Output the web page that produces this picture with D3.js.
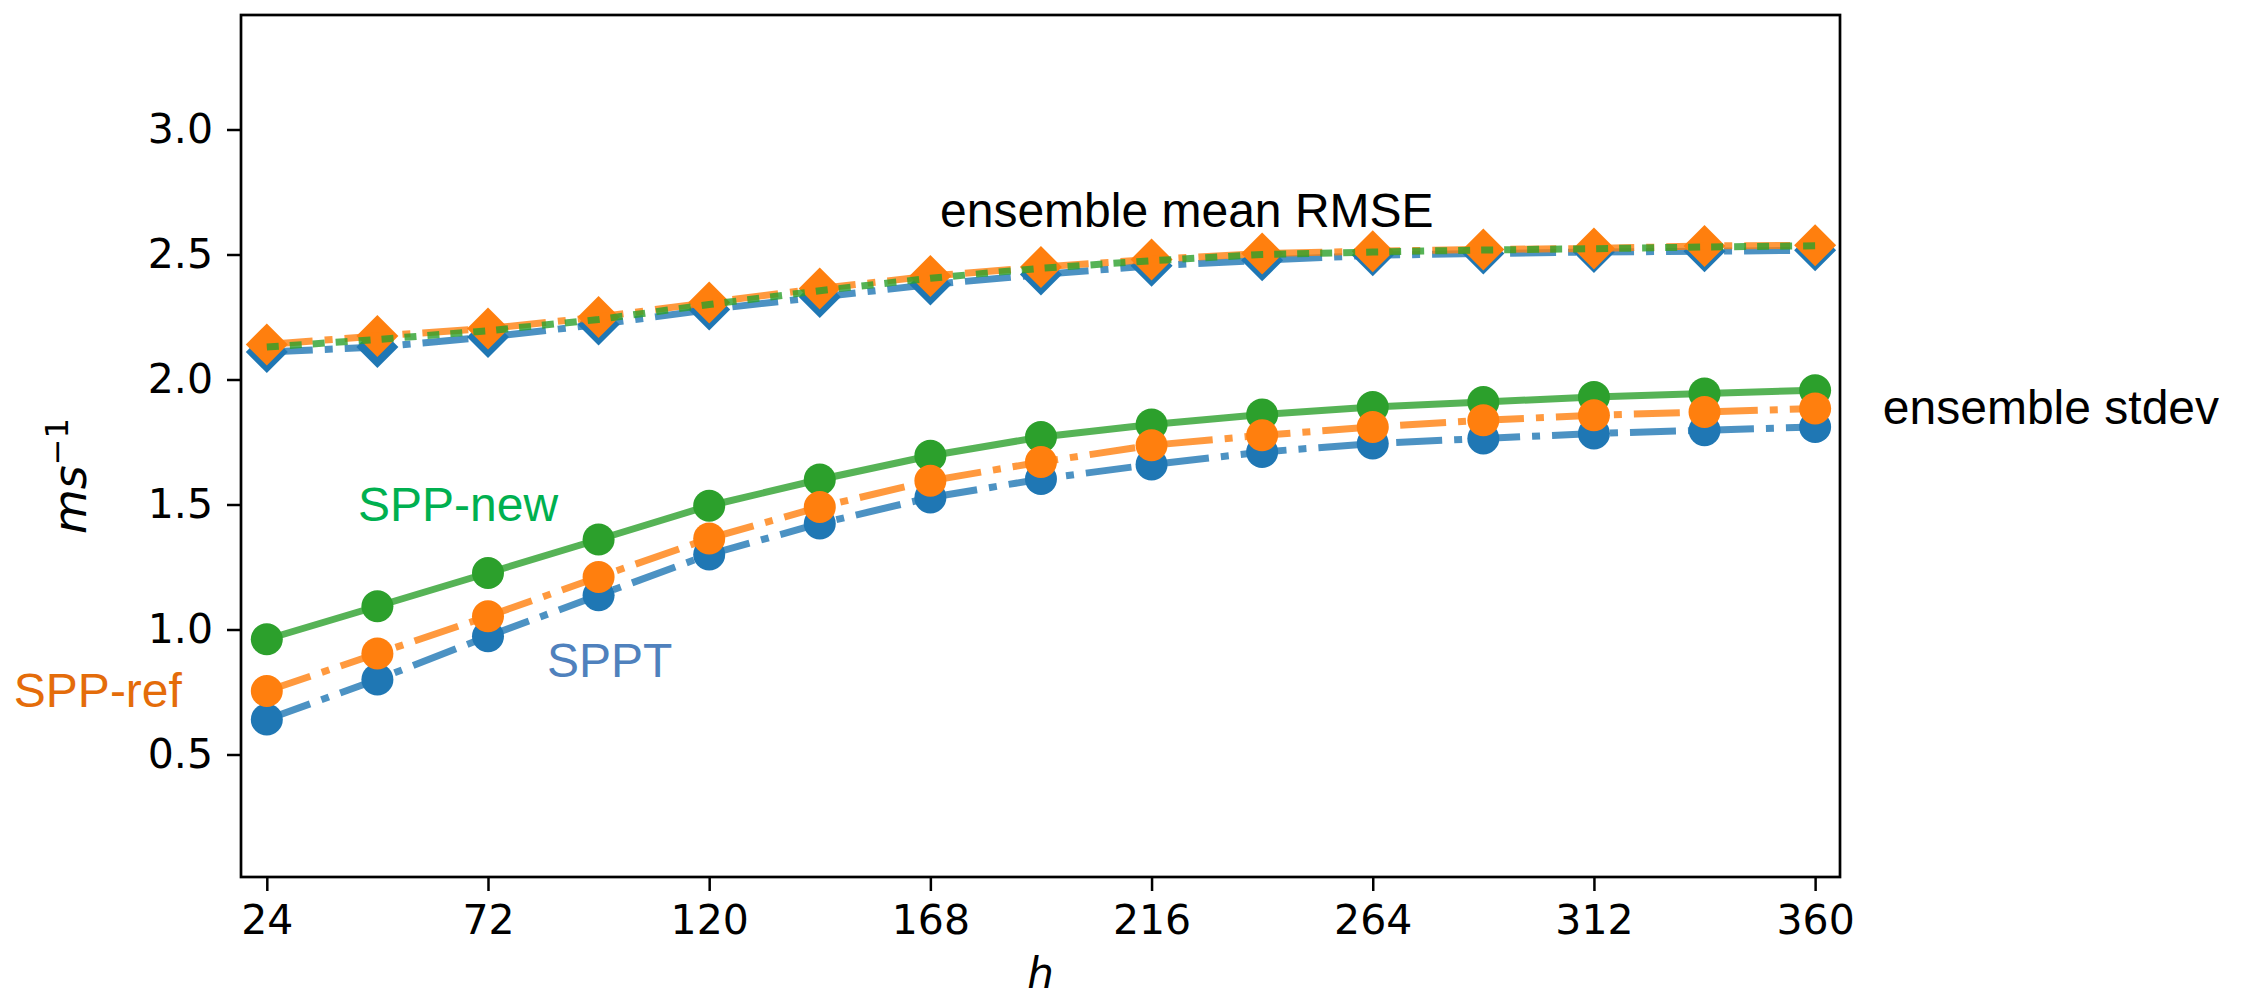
<!DOCTYPE html>
<meta charset="utf-8">

<script src="https://d3js.org/d3.v7.min.js"></script>

<style type="text/css">

body { margin: 0; background: #fff; }
svg { display: block; }
.tick text { font-family: "DejaVu Sans", sans-serif; font-size: 41px; fill: #000; }
.tick line { stroke: #000; stroke-width: 2.5; }
.note { font-family: "Liberation Sans", Arial, sans-serif; font-size: 48px; }

</style>

<body>
</body>

<script>

// lead time in hours
var hours = [24, 48, 72, 96, 120, 144, 168, 192, 216, 240, 264, 288, 312, 336, 360];

// ensemble mean RMSE (m/s)
var rmseSPPT   = [2.11, 2.13, 2.17, 2.22, 2.28, 2.33, 2.38, 2.42, 2.455, 2.477, 2.497, 2.504, 2.51, 2.513, 2.517];
var rmseSPPref = [2.14, 2.174, 2.204, 2.25, 2.308, 2.364, 2.414, 2.45, 2.48, 2.504, 2.513, 2.52, 2.524, 2.534, 2.537];
var rmseSPPnew = [2.13, 2.16, 2.195, 2.24, 2.30, 2.355, 2.405, 2.445, 2.475, 2.50, 2.51, 2.518, 2.523, 2.53, 2.535];

// ensemble stdev (m/s)
var sdSPPT   = [0.64, 0.80, 0.973, 1.137, 1.30, 1.424, 1.528, 1.602, 1.66, 1.71, 1.744, 1.764, 1.784, 1.797, 1.81];
var sdSPPref = [0.754, 0.904, 1.053, 1.21, 1.364, 1.49, 1.595, 1.67, 1.737, 1.777, 1.81, 1.837, 1.857, 1.87, 1.884];
var sdSPPnew = [0.961, 1.093, 1.226, 1.36, 1.495, 1.60, 1.695, 1.77, 1.82, 1.86, 1.89, 1.91, 1.93, 1.944, 1.957];

var xTicks = [24, 72, 120, 168, 216, 264, 312, 360];
var yTicks = [0.5, 1.0, 1.5, 2.0, 2.5, 3.0];

// text notes, placed in data coordinates
var noteText  = ["ensemble mean RMSE", "ensemble stdev", "SPP-new", "SPPT", "SPP-ref"];
var noteX     = [170.1, 374.7, 43.8, 84.8, -30.9];
var noteY     = [2.61, 1.822, 1.434, 0.81, 0.69];
var noteColor = ["#000000", "#000000", "#00b050", "#4f81bd", "#e46c0a"];

// colours
var blue = "#1f77b4", orange = "#ff7f0e", green = "#2ca02c";

// Margins and svg
var margin = {top: 15, right: 407, bottom: 126, left: 241};
var width = 2247 - margin.left - margin.right;
var height = 1003 - margin.top - margin.bottom;

var svg = d3.select("body").append("svg")
  .attr("width", width + margin.left + margin.right)
  .attr("height", height + margin.top + margin.bottom)
  .append("g")
  .attr("transform", "translate(" + margin.left + "," + margin.top + ")");

var xScale = d3.scaleLinear()
  .domain([18.4, 365.4])
  .range([0, width]);

var yScale = d3.scaleLinear()
  .domain([0.01, 3.458])
  .range([height, 0]);

var xAxis = d3.axisBottom(xScale)
  .tickValues(xTicks)
  .tickFormat(d3.format("d"))
  .tickSize(14)
  .tickSizeOuter(0)
  .tickPadding(14);

var yAxis = d3.axisLeft(yScale)
  .tickValues(yTicks)
  .tickFormat(d3.format(".1f"))
  .tickSize(14)
  .tickSizeOuter(0)
  .tickPadding(14);

var xAxisGroup = svg.append("g")
  .attr("class", "x axis")
  .attr("transform", "translate(0," + height + ")")
  .call(xAxis);

var yAxisGroup = svg.append("g")
  .attr("class", "y axis")
  .call(yAxis);

svg.selectAll(".domain").remove();

// clip to the axes box (markers may poke out a little)
svg.append("clipPath").attr("id", "clip")
  .append("rect")
  .attr("x", -30).attr("y", -30)
  .attr("width", width + 60).attr("height", height + 60);

var plot = svg.append("g").attr("clip-path", "url(#clip)");

var line = d3.line()
  .x(function(d) { return xScale(d.h); })
  .y(function(d) { return yScale(d.v); });

function pairs(vals) {
  return hours.map(function(h, i) { return {h: h, v: vals[i]}; });
}

function drawLine(vals, color, dash) {
  plot.append("path")
    .datum(pairs(vals))
    .attr("d", line)
    .attr("fill", "none")
    .attr("stroke", color)
    .attr("stroke-opacity", 0.8)
    .attr("stroke-width", 7)
    .attr("stroke-dasharray", dash);
}

function drawCircles(vals, color) {
  plot.selectAll(null)
    .data(pairs(vals))
    .enter().append("circle")
    .attr("cx", function(d) { return xScale(d.h); })
    .attr("cy", function(d) { return yScale(d.v); })
    .attr("r", 16)
    .attr("fill", color);
}

function drawDiamonds(vals, color) {
  plot.selectAll(null)
    .data(pairs(vals))
    .enter().append("path")
    .attr("d", "M0,-21L21,0L0,21L-21,0Z")
    .attr("transform", function(d) { return "translate(" + xScale(d.h) + "," + yScale(d.v) + ")"; })
    .attr("fill", color);
}

var dashDot = "46,12,8,12";

// RMSE group
drawLine(rmseSPPT, blue, dashDot);
drawDiamonds(rmseSPPT, blue);
drawDiamonds(rmseSPPref, orange);
drawLine(rmseSPPref, orange, dashDot);
drawLine(rmseSPPnew, green, "12,11");

// stdev group
drawLine(sdSPPT, blue, dashDot);
drawCircles(sdSPPT, blue);
drawLine(sdSPPnew, green, null);
drawCircles(sdSPPnew, green);
drawLine(sdSPPref, orange, dashDot);
drawCircles(sdSPPref, orange);

// frame
svg.append("rect")
  .attr("width", width)
  .attr("height", height)
  .attr("fill", "none")
  .attr("stroke", "#000")
  .attr("stroke-width", 2.7);

// notes
svg.selectAll(".note")
  .data(noteText)
  .enter().append("text")
  .attr("class", "note")
  .attr("x", function(d, i) { return xScale(noteX[i]); })
  .attr("y", function(d, i) { return yScale(noteY[i]); })
  .attr("fill", function(d, i) { return noteColor[i]; })
  .text(function(d) { return d; });

// axis labels
svg.append("text")
  .attr("x", width / 2)
  .attr("y", height + 111)
  .attr("text-anchor", "middle")
  .style("font-family", "DejaVu Sans")
  .style("font-style", "italic")
  .style("font-size", "42px")
  .text("h");

var yLabel = svg.append("text")
  .attr("transform", "translate(" + (86 - margin.left) + "," + (476 - margin.top) + ") rotate(-90)")
  .attr("text-anchor", "middle")
  .style("font-family", "DejaVu Sans")
  .style("font-style", "italic")
  .style("font-size", "46px");

yLabel.append("tspan").text("ms");
yLabel.append("tspan")
  .attr("dy", -18)
  .style("font-style", "normal")
  .style("font-size", "32px")
  .text("\u22121");

</script>
